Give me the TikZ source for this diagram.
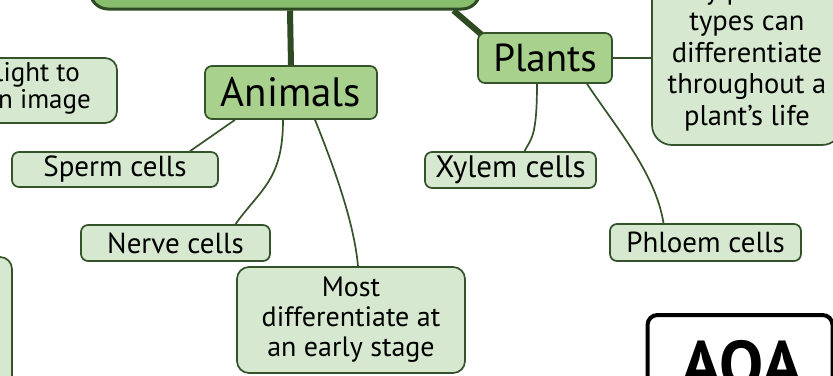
\documentclass[tikz,border=0pt]{standalone}
\usepackage{fontspec}
\setmainfont{PT Sans}
\usetikzlibrary{backgrounds}
\definecolor{central}{HTML}{89BD6E}
\definecolor{midg}{HTML}{A9D18E}
\definecolor{leafg}{HTML}{D6E8CF}
\definecolor{edgeg}{HTML}{34532A}
\definecolor{trunkg}{HTML}{2E4A22}
\tikzset{
  box/.style={draw=edgeg, line width=1.7pt, rounded corners=7pt, align=center, inner sep=0pt, text=black},
  midbox/.style={box, fill=midg},
  leafbox/.style={box, fill=leafg},
  link/.style={draw=edgeg, line width=1.7pt},
  trunk/.style={draw=trunkg, line width=6pt},
  leaftext/.style={font=\fontsize{29}{30}\selectfont},
  bigtext/.style={font=\fontsize{41}{42}\selectfont},
  multitext/.style={font=\fontsize{28}{30}\selectfont, align=center, inner sep=0pt},
}
\begin{document}
\begin{tikzpicture}[x=1pt,y=-1pt]
\useasboundingbox (0,0) rectangle (833,375);
% central (cut off at top)
\node[box, fill=central, draw=trunkg, line width=3pt, rounded corners=18pt, minimum width=390pt, minimum height=80pt] (central) at (285,-31) {};
% level 1
\node[midbox, minimum width=172pt, minimum height=53pt, bigtext] (animals) at (291,92.5) {Animals};
\node[midbox, minimum width=134pt, minimum height=50pt, font=\fontsize{39}{40}\selectfont] (plants) at (545,58) {Plants};
% leaves
\node[leafbox, minimum width=206pt, minimum height=35pt, leaftext] (sperm) at (115,169.5) {Sperm cells};
\node[leafbox, minimum width=189pt, minimum height=36pt, leaftext] (nerve) at (175.5,243) {Nerve cells};
\node[leafbox, rounded corners=12pt, minimum width=228pt, minimum height=106pt, multitext] (most) at (351,320) {Most\\differentiate at\\an early stage};
\node[leafbox, minimum width=171pt, minimum height=36pt, font=\fontsize{31}{32}\selectfont] (xylem) at (510.5,170) {Xylem cells};
\node[leafbox, minimum width=191pt, minimum height=37pt, leaftext] (phloem) at (705.5,242.5) {Phloem cells};
% top-right box (cut off)
\node[leafbox, rounded corners=20pt, minimum width=190pt, minimum height=205pt] (trbox) at (747,42.5) {};
\node[multitext, anchor=north, font=\fontsize{28.5}{31.5}\selectfont] (trtext) at (trbox.north |- 0,-21) {Many plant cell\\types can\\differentiate\\throughout a\\plant's life};
% left box (cut off)
\node[leafbox, rounded corners=12pt, minimum width=177pt, minimum height=65pt] (leftbox) at (28.5,90.5) {};
\node[multitext, anchor=north east, font=\fontsize{27}{27}\selectfont] (lefttext) at (91,62) {Uses light to\\form an image};
% bottom-left box (cut off)
\node[leafbox, rounded corners=12pt, minimum width=184pt, minimum height=146pt] (blbox) at (-80,330) {};
% AQA box
\node[draw=black, line width=4pt, rounded corners=10pt, fill=white, minimum width=185pt, minimum height=110pt, inner sep=0pt] (aqabox) at (740,370) {};
\node[font=\fontsize{66}{66}\selectfont\bfseries, anchor=base] (aqa) at (742,387) {AQA};
% connectors
\begin{scope}[on background layer]
  \draw[trunk] ([xshift=5pt]central.south) -- (animals.north);
  \draw[trunk] ([xshift=-28pt]central.south east) -- ([xshift=5pt,yshift=-3pt]plants.north west);
  \draw[link] ([xshift=-56pt]animals.south) -- ([xshift=75pt]sperm.north);
  \draw[link] ([xshift=-8pt]animals.south) .. controls +(0,60) and +(25,-35) .. ([xshift=60pt]nerve.north);
  \draw[link] ([xshift=24pt]animals.south) .. controls +(18,45) and +(-4,-45) .. ([xshift=7pt]most.north);
  \draw[link] ([xshift=-8pt]plants.south) .. controls +(0,55) and +(6,-12) .. ([xshift=14pt]xylem.north);
  \draw[link] ([xshift=42pt]plants.south) .. controls +(30,45) and +(-8,-50) .. ([xshift=-42pt]phloem.north);
  \draw[link] (plants.east) -- (trbox.west |- plants.east);
\end{scope}
\end{tikzpicture}
\end{document}
